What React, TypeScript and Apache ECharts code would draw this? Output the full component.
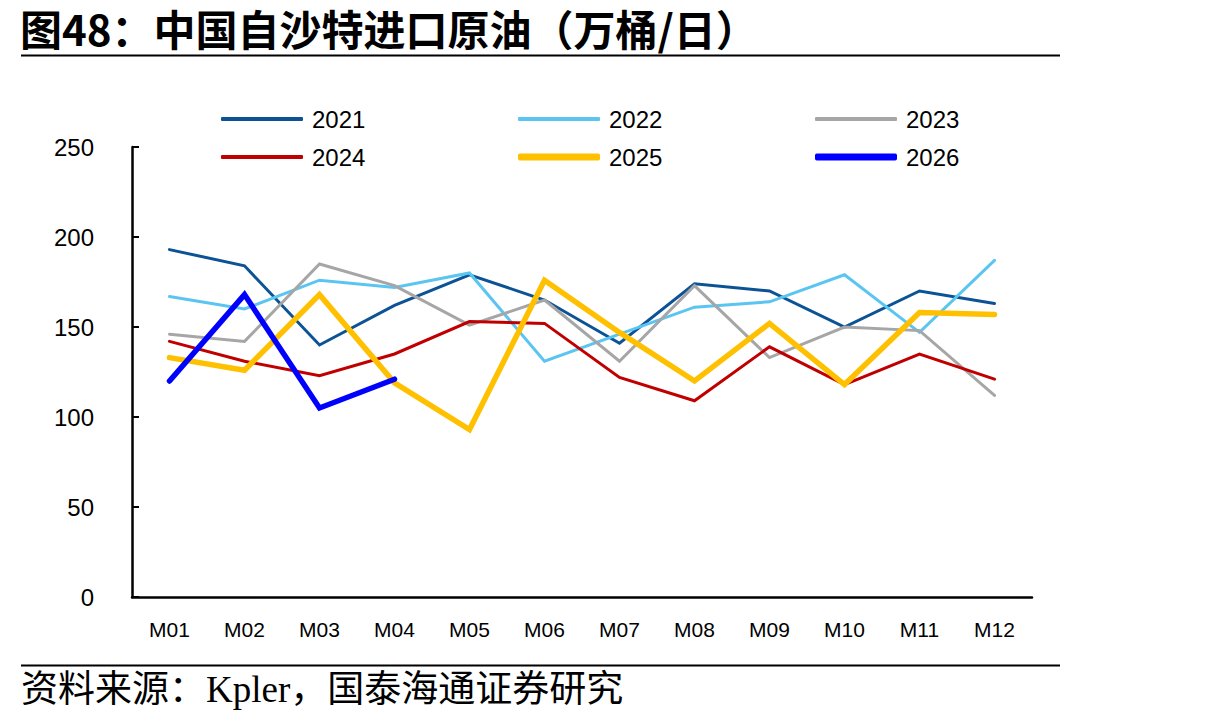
import React, { useEffect, useRef } from "react";
import * as echarts from "echarts";

const months = ["M01", "M02", "M03", "M04", "M05", "M06", "M07", "M08", "M09", "M10", "M11", "M12"];

const y2021 = [193, 184, 140, 162, 179, 165, 141, 174, 170, 150, 170, 163];
const y2022 = [167, 160, 176, 172, 180, 131, 146, 161, 164, 179, 147, 187];
const y2023 = [146, 142, 185, 173, 151, 165, 131, 173, 133, 150, 148, 112];
const y2024 = [142, 131, 123, 135, 153, 152, 122, 109, 139, 118, 135, 121];
const y2025 = [133, 126, 168, 119, 93, 176, 147, 120, 152, 118, 158, 157];
const y2026 = [120, 168, 105, 121];

const yTicks = [0, 50, 100, 150, 200, 250];

const titleText = "图48：中国自沙特进口原油（万桶/日）";
const sourceText = "资料来源：Kpler，国泰海通证券研究";

const seriesDefs = [
  { name: "2021", data: y2021, color: "#0B5394", width: 3 },
  { name: "2022", data: y2022, color: "#5BC5F2", width: 3 },
  { name: "2023", data: y2023, color: "#A6A6A6", width: 3 },
  { name: "2024", data: y2024, color: "#C00000", width: 3 },
  { name: "2025", data: y2025, color: "#FFC000", width: 5.5 },
  { name: "2026", data: y2026, color: "#0000FF", width: 5.5 },
];

// legend slots: three columns, two rows
const legendCols = [221, 518, 815];
const legendRows = [107, 145];

export default function App() {
  const ref = useRef<HTMLDivElement>(null);

  useEffect(() => {
    if (!ref.current) return;
    const chart = echarts.init(ref.current, undefined, { renderer: "svg" });
    const font = "Liberation Sans, Arial, sans-serif";

    const legends = seriesDefs.map((s, i) => ({
      data: [{ name: s.name, icon: "roundRect", itemStyle: { color: s.color } }],
      left: legendCols[i % 3],
      top: legendRows[Math.floor(i / 3)],
      padding: 0,
      itemWidth: 82,
      itemHeight: Math.round(s.width) + 1,
      textStyle: { fontSize: 24, color: "#000", fontFamily: font, padding: [0, 0, 0, 4] },
    }));

    chart.setOption({
      animation: false,
      backgroundColor: "#fff",
      grid: { left: 132, right: 183, top: 147, bottom: 128, containLabel: false },
      legend: legends,
      xAxis: {
        type: "category",
        data: months,
        boundaryGap: true,
        axisLine: { lineStyle: { color: "#000", width: 2.5 } },
        axisTick: { inside: true, length: 7, lineStyle: { color: "#000", width: 2 } },
        axisLabel: { color: "#000", fontSize: 21, fontFamily: font, margin: 22 },
      },
      yAxis: {
        type: "value",
        min: yTicks[0],
        max: yTicks[yTicks.length - 1],
        interval: 50,
        axisLine: { show: true, lineStyle: { color: "#000", width: 2.5 } },
        axisTick: { show: true, inside: true, length: 7, lineStyle: { color: "#000", width: 2 } },
        splitLine: { show: false },
        axisLabel: { color: "#000", fontSize: 24, fontFamily: font, margin: 38 },
      },
      series: seriesDefs.map((s) => ({
        name: s.name,
        type: "line",
        data: s.data,
        symbol: "none",
        itemStyle: { color: s.color },
        lineStyle: { color: s.color, width: s.width, cap: "round", join: "miter" },
      })),
      graphic: [
        {
          type: "text",
          left: 20,
          top: 6,
          style: {
            text: titleText,
            fontSize: 42,
            fontWeight: "bold",
            fill: "#000",
            fontFamily: "Noto Sans CJK SC, sans-serif",
          },
        },
        {
          type: "line",
          shape: { x1: 21, y1: 55.5, x2: 1060, y2: 55.5 },
          style: { stroke: "#000", lineWidth: 2 },
        },
        {
          type: "line",
          shape: { x1: 21, y1: 665.5, x2: 1060, y2: 665.5 },
          style: { stroke: "#000", lineWidth: 2 },
        },
        {
          type: "text",
          left: 21,
          top: 671,
          style: {
            text: sourceText,
            fontSize: 37,
            fill: "#000",
            fontFamily: "Liberation Serif, Noto Sans CJK SC, serif",
          },
        },
      ],
    });

    return () => chart.dispose();
  }, []);

  return <div ref={ref} style={{ width: 1215, height: 725, position: "absolute", left: 0, top: 0 }} />;
}
